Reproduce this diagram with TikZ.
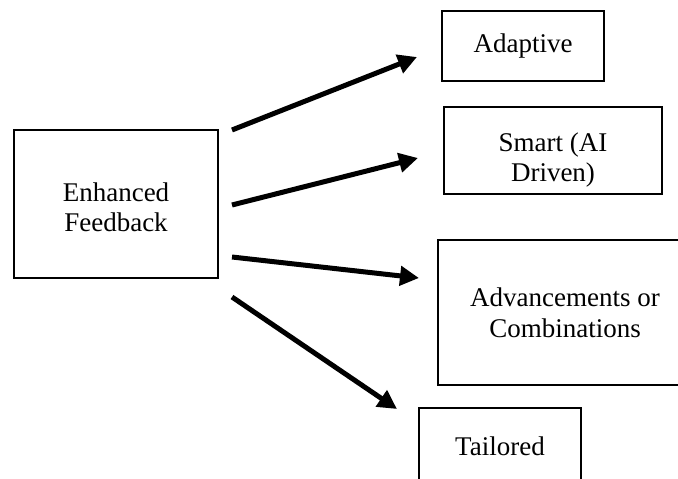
\documentclass[tikz,border=0pt]{standalone}
\usepackage{fontspec}
\setmainfont{Liberation Serif}
\usetikzlibrary{arrows.meta}
\tikzset{
  box/.style={draw, line width=1.1pt, align=center, font=\fontsize{27}{31}\selectfont, inner sep=0pt},
  boxtext/.style={align=center, font=\fontsize{27}{30}\selectfont, inner sep=0pt},
  flow/.style={line width=5pt, -{Triangle[length=19pt,width=19pt]}}
}

\begin{document}
\begin{tikzpicture}[x=1pt,y=-1pt]
            \useasboundingbox (0,0) rectangle (678,479);
            \clip (0,0) rectangle (678,479);

            \node[box, minimum width=204pt, minimum height=148pt,
                  label={[boxtext,yshift=-3pt]center:Enhanced\\Feedback}] (feedback) at(116,204) {};

            \node[box, minimum width=162pt, minimum height=70pt] (adaptive) at(523,46) {Adaptive};
            \node[box, minimum width=218pt, minimum height=87pt,
                  label={[boxtext,yshift=-10pt]center:Smart (AI\\Driven)}] (smart) at(553,150.5) {};
            \node[box, minimum width=254pt, minimum height=145pt] (advance) at(565,312.5) {Advancements or\\Combinations};
            \node[box, minimum width=162pt, minimum height=76pt] (tailored) at(500,446) {Tailored};

            % arrow ends
            \coordinate (s1) at(232,130);
            \coordinate (s2) at(232,205);
            \coordinate (s3) at(232,257);
            \coordinate (s4) at(232,297);
            \coordinate (t1) at(417,57);
            \coordinate (t2) at(418,158);
            \coordinate (t3) at(419,278);
            \coordinate (t4) at(397,409);

            \draw [flow] (s1)--(t1);
            \draw [flow] (s2)--(t2);
            \draw [flow] (s3)--(t3);
            \draw [flow] (s4)--(t4);
        \end{tikzpicture}
\end{document}
